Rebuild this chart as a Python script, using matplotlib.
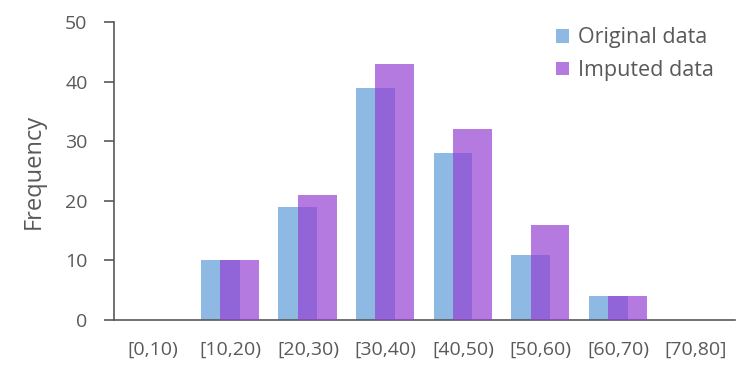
import matplotlib
matplotlib.use("Agg")
import matplotlib.pyplot as plt
import numpy as np

categories = ["[0,10)", "[10,20)", "[20,30)", "[30,40)", "[40,50)", "[50,60)", "[60,70)", "[70,80]"]
original = [0, 10, 19, 39, 28, 11, 4, 0]
imputed = [0, 10, 21, 43, 32, 16, 4, 0]

plt.rcParams['font.family'] = ['Open Sans', 'DejaVu Sans']
grey = '#595959'

fig = plt.figure(figsize=(7.52, 3.77), dpi=100)
ax = fig.add_axes([0.1516, 0.151, 0.977 - 0.1516, 0.9416 - 0.151])

x = np.arange(len(categories))
w = 0.5
ax.bar(x - 0.13, original, width=w, color='#8db9e3', label='Original data', zorder=2)
ax.bar(x + 0.12, imputed, width=w, color='#943ed2', alpha=0.69, label='Imputed data', zorder=3)

ax.set_xlim(-0.5, len(categories) - 0.5)
ax.set_ylim(0, 50)
ax.set_yticks([0, 10, 20, 30, 40, 50])
ax.set_xticks(x)
ax.set_xticklabels(categories)

for s in ['top', 'right']:
    ax.spines[s].set_visible(False)
for s in ['left', 'bottom']:
    ax.spines[s].set_color(grey)
    ax.spines[s].set_linewidth(1.2)

ax.tick_params(axis='y', colors=grey, labelsize=14, length=7, width=1.2, pad=12, direction='out')
ax.tick_params(axis='x', colors=grey, labelsize=14, length=0, pad=15)
ax.set_ylabel('Frequency', fontsize=17, color=grey, labelpad=14)

leg = ax.legend(loc='upper right', bbox_to_anchor=(0.997, 1.047), frameon=False, fontsize=15.5,
                handlelength=0.6, handleheight=0.6, handletextpad=0.4, labelspacing=0.55)
for t in leg.get_texts():
    t.set_color(grey)

fig.savefig('out.png', dpi=100)
